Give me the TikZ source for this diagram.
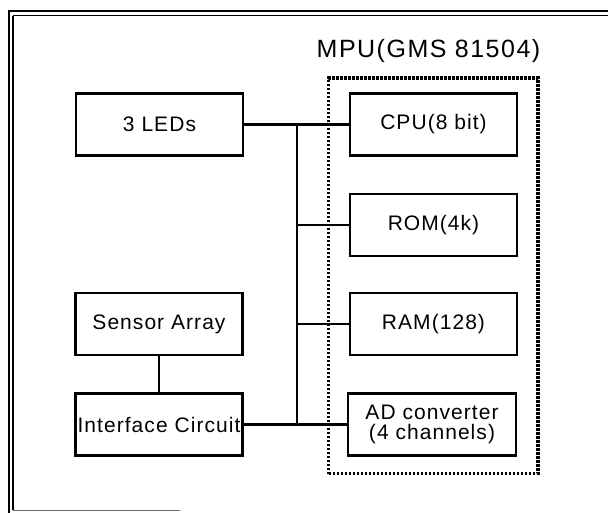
\documentclass[tikz,border=0pt]{standalone}
\usepackage{fontspec}
\setmainfont{Liberation Sans}[LetterSpace=5]
\begin{document}
\begin{tikzpicture}[x=1pt,y=-1pt,
  blockbox/.style={draw, line width=2.2pt, inner sep=0pt, minimum width=167pt, minimum height=62pt,
    font=\fontsize{21}{21}\selectfont, align=center},
  mpubox/.style={draw, line width=3.2pt, dash pattern=on 2.6pt off 1.4pt, inner sep=0pt},
  wire/.style={line width=2.2pt},
  framestyle/.style={line width=2pt, line cap=rect}]
\useasboundingbox (0,0) rectangle (608,512);
% outer frame
\draw[framestyle] (9,11) -- (608,11);
\draw[framestyle] (9,11) -- (9,512);
\draw[line width=1.5pt] (13,15.5) -- (608,15.5);
\draw[line width=1.5pt] (13,15.5) -- (13,510);
\draw[line width=1pt, black!60] (13,510.5) -- (180,510.5);
% MPU group
\node (mpu) [mpubox, minimum width=209.5pt, minimum height=395.5pt] at (433.25,275.75) {};
\node (mpulabel) [anchor=base, font=\fontsize{25}{25}\selectfont\addfontfeature{LetterSpace=6}, inner sep=0pt] at (428.5,57) {MPU(GMS 81504)};
% blocks
\node (leds) [blockbox] at (159.5,124.5) {3 LEDs};
\node (sensor) [blockbox] at (159,324) {Sensor Array};
\node (iface) [blockbox] at (159,424.5) {Interface Circuit};
\node (cpu) [blockbox] at (433.5,124.5) {CPU(8 bit)};
\node (rom) [blockbox] at (433.5,225) {ROM(4k)};
\node (ram) [blockbox] at (433.5,324) {RAM(128)};
\node (ad) [blockbox, minimum width=168pt, font=\fontsize{21}{20}\selectfont] at (432,424.5) {AD converter\\(4 channels)};
% bus
\coordinate (bt) at (297,124.5);
\coordinate (bb) at (297,424.5);
\draw[wire] (leds.east) -- (cpu.west);
\draw[wire] (bt) -- (bb);
\draw[wire] (bt |- rom.west) -- (rom.west);
\draw[wire] (bt |- ram.west) -- (ram.west);
\draw[wire] (iface.east) -- (ad.west);
\draw[wire] (sensor.south) -- (iface.north);
\end{tikzpicture}
\end{document}
